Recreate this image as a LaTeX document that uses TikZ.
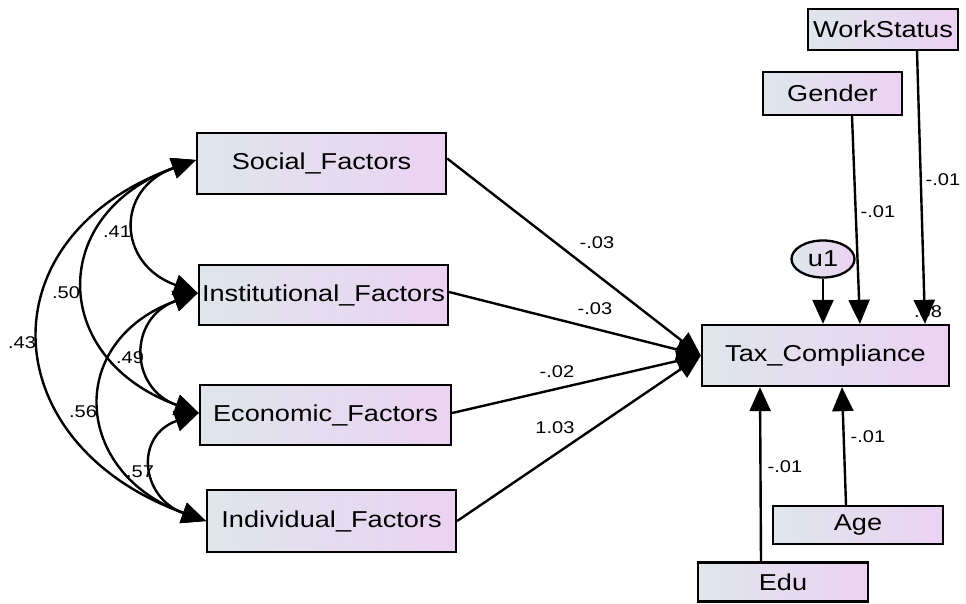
\documentclass[tikz,border=0pt]{standalone}
\usepackage{fontspec}
\setmainfont{Liberation Sans}[FakeStretch=1.18]
\usetikzlibrary{arrows.meta,shapes.geometric}
\definecolor{boxL}{HTML}{DFE6EB}
\definecolor{boxR}{HTML}{EBD2F3}
\begin{document}
\begin{tikzpicture}[x=1pt,y=-1pt,
  var/.style={rectangle, draw=black, line width=2.3pt, left color=boxL, right color=boxR, inner sep=0pt, font=\fontsize{23}{26}\selectfont},
  lat/.style={ellipse, draw=black, line width=2.3pt, left color=boxL, right color=boxR, inner sep=0pt, font=\fontsize{23}{26}\selectfont},
  lbl/.style={font=\fontsize{17}{19}\selectfont, inner sep=0pt},
  arr/.style={line width=2.4pt, -{Triangle[length=24pt,width=21pt]}},
  cov/.style={line width=2.4pt, {Triangle[length=24pt,width=21pt]}-{Triangle[length=24pt,width=21pt]}}]
\useasboundingbox[fill=white] (0,0) rectangle (966,603);

% observed variables
\node[var, minimum width=249pt, minimum height=61pt] (S) at (321.5,163.5) {Social\_Factors};
\node[var, minimum width=249pt, minimum height=60pt] (I) at (323.5,295) {Institutional\_Factors};
\node[var, minimum width=251pt, minimum height=60pt] (E) at (325.5,415) {Economic\_Factors};
\node[var, minimum width=249pt, minimum height=62pt] (N) at (331.5,521) {Individual\_Factors};
\node[var, minimum width=247pt, minimum height=61pt] (T) at (825.5,355.5) {Tax\_Compliance};
\node[var, minimum width=150pt, minimum height=41pt] (W) at (883,29.5) {WorkStatus};
\node[var, minimum width=139pt, minimum height=43pt] (G) at (832.5,93.5) {Gender};
\node[var, minimum width=170pt, minimum height=38pt] (A) at (858,525) {Age};
\node[var, minimum width=170pt, minimum height=39pt] (D) at (783,582) {Edu};
\node[lat, minimum width=63pt, minimum height=37pt] (U) at (823,259) {u1};

% covariances
\draw[cov] ([yshift=3.5pt]S.west) .. controls +(-81,29) and +(-81,-29) .. ([yshift=2pt]I.west);
\draw[cov] ([yshift=3.5pt]S.west) .. controls +(-149,54) and +(-149,-54) .. ([yshift=2pt]E.west);
\draw[cov] ([yshift=3.5pt]S.west) .. controls +(-213,77) and +(-213,-77) .. (N.west);
\draw[cov] ([yshift=2pt]I.west) .. controls +(-70,25) and +(-70,-25) .. ([yshift=2pt]E.west);
\draw[cov] ([yshift=2pt]I.west) .. controls +(-133,48) and +(-133,-48) .. (N.west);
\draw[cov] ([yshift=2pt]E.west) .. controls +(-65,23) and +(-65,-23) .. (N.west);

\node[lbl] (c1) at (117,232) {.41};
\node[lbl] (c2) at (66,293) {.50};
\node[lbl] (c3) at (22,343) {.43};
\node[lbl] (c4) at (130,358) {.49};
\node[lbl] (c5) at (83,412) {.56};
\node[lbl] (c6) at (140,472) {.57};

% regressions
\draw[arr] ([yshift=5pt]S.east) -- (T.west);
\draw[arr] ([yshift=3pt]I.east) -- (T.west);
\draw[arr] ([yshift=2pt]E.east) -- (T.west);
\draw[arr] (N.east) -- (T.west);

\node[lbl] (r1) at (597,243) {-.03};
\node[lbl] (r2) at (595,309) {-.03};
\node[lbl] (r3) at (557,372) {-.02};
\node[lbl] (r4) at (555,428) {1.03};

\node[lbl] (rsq) at (928,312) {.38};

\draw[arr] (U.south) -- (U.south |- T.north);
\draw[arr] ([xshift=19.5pt]G.south) -- ([xshift=34.5pt]T.north);
\draw[arr] ([xshift=34pt]W.south) -- ([xshift=99.5pt]T.north);
\draw[arr] ([xshift=-22pt]D.north) -- ([xshift=-65.5pt]T.south);
\draw[arr] ([xshift=-12pt]A.north) -- ([xshift=16.5pt]T.south);

\node[lbl] (g1) at (878,212) {-.01};
\node[lbl] (w1) at (943,180) {-.01};
\node[lbl] (d1) at (785,467) {-.01};
\node[lbl] (a1) at (868,437) {-.01};
\end{tikzpicture}
\end{document}
